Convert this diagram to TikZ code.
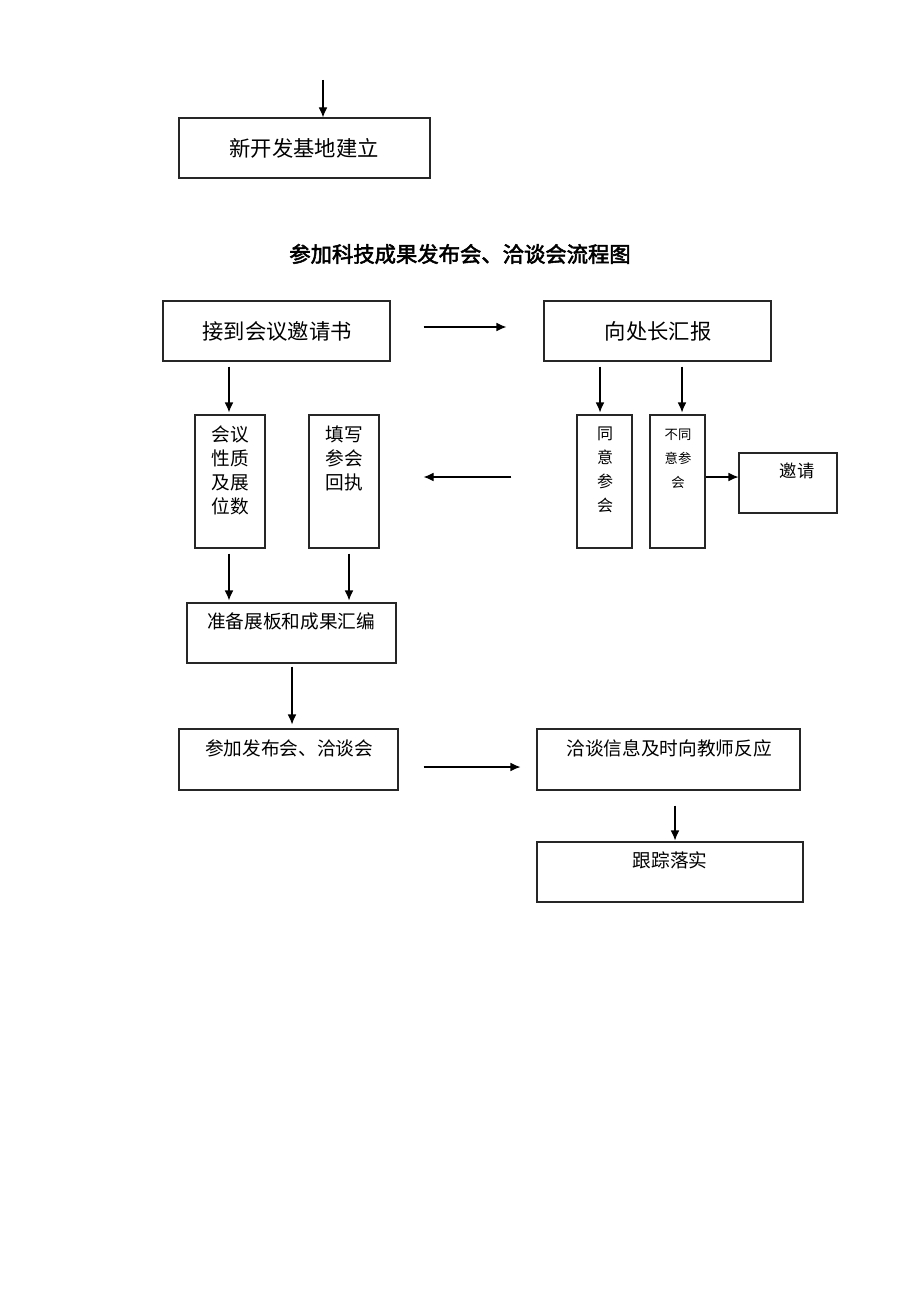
\documentclass[tikz,border=0pt]{standalone}
\usepackage{fontspec}
\newfontfamily\cjk{Noto Sans CJK SC}
\newfontfamily\cjkb[FakeBold=2.5]{Noto Sans CJK SC}
\usetikzlibrary{arrows.meta,fit,calc}
\begin{document}
\begin{tikzpicture}[x=0.75pt,y=-0.75pt,
  box/.style={draw=black!85,line width=0.8pt,inner sep=0pt,rectangle},
  arr/.style={draw=black,line width=0.8pt,-{Latex[length=7.5pt,width=6.5pt]}},
  txt/.style={inner sep=0pt,font=\cjk\fontsize{14}{18}\selectfont,align=center},
  big/.style={inner sep=0pt,font=\cjk\fontsize{16}{20}\selectfont}]
\useasboundingbox[fill=white] (0,0) rectangle (920,1302);
% boxes
\node[box,fit={(179,118) (430,178)}] (b0) {};
\node[box,fit={(163,301) (390,361)}] (b1) {};
\node[box,fit={(544,301) (771,361)}] (b2) {};
\node[box,fit={(195,415) (265,548)}] (b3) {};
\node[box,fit={(309,415) (379,548)}] (b4) {};
\node[box,fit={(577,415) (632,548)}] (b5) {};
\node[box,fit={(650,415) (705,548)}] (b6) {};
\node[box,fit={(739,453) (837,513)}] (b7) {};
\node[box,fit={(187,603) (396,663)}] (b8) {};
\node[box,fit={(179,729) (398,790)}] (b9) {};
\node[box,fit={(537,729) (800,790)}] (b10) {};
\node[box,fit={(537,842) (803,902)}] (b11) {};
% texts
\node[big] (t0) at (304,148) {新开发基地建立};
\node[inner sep=0pt,font=\cjkb\fontsize{16}{18}\selectfont] (title) at (460,254) {参加科技成果发布会、洽谈会流程图};
\node[big] (t1) at (277,331) {接到会议邀请书};
\node[big] (t2) at (658,331) {向处长汇报};
\node[txt,anchor=north] (t3) at (230,426) {会议\\性质\\及展\\位数};
\node[txt,anchor=north] (t4) at (344,426) {填写\\参会\\回执};
\node[txt,anchor=north,font=\cjk\fontsize{12}{18}\selectfont] (t5) at (605,427) {同\\意\\参\\会};
\node[txt,anchor=north,font=\cjk\fontsize{10}{18}\selectfont] (t6) at (678,429) {不同\\意参\\会};
\node[txt,font=\cjk\fontsize{13}{18}\selectfont] (t7) at (797,471) {邀请};
\node[txt] (t8) at (291,621) {准备展板和成果汇编};
\node[txt] (t9) at (289,748) {参加发布会、洽谈会};
\node[txt] (t10) at (669,748) {洽谈信息及时向教师反应};
\node[txt] (t11) at (670,860) {跟踪落实};
% arrows
\coordinate (s0) at (323,80);
\draw[arr] (s0) -- (s0 |- b0.north);
\draw[arr] ($(b1.east)+(33,-4)$) -- ($(b2.west)+(-37,-4)$);
\draw[arr] ($(b1.south -| b3)+(-1,5)$) -- ($(b3.north)+(-1,-2)$);
\draw[arr] ($(b2.south -| b5)+(-4.5,5)$) -- ($(b5.north)+(-4.5,-2)$);
\draw[arr] ($(b2.south -| b6)+(4.5,5)$) -- ($(b6.north)+(4.5,-2)$);
\draw[arr] ($(b5.west)+(-65,-4.5)$) -- ($(b4.east)+(44,-4.5)$);
\draw[arr] ($(b6.east)+(0,-4.5)$) -- ($(b7.west)+(0,-6)$);
\draw[arr] ($(b3.south)+(-1,5)$) -- ($(b3.south |- b8.north)+(-1,-2)$);
\draw[arr] ($(b4.south)+(5,5)$) -- ($(b4.south |- b8.north)+(5,-2)$);
\draw[arr] ($(b8.south)+(0.5,3)$) -- ($(b8.south |- b9.north)+(0.5,-4)$);
\draw[arr] ($(b9.east)+(25,7.5)$) -- ($(b10.west)+(-16,7.5)$);
\draw[arr] ($(b10.south)+(6.5,15)$) -- ($(b10.south |- b11.north)+(6.5,-1)$);
\end{tikzpicture}
\end{document}
